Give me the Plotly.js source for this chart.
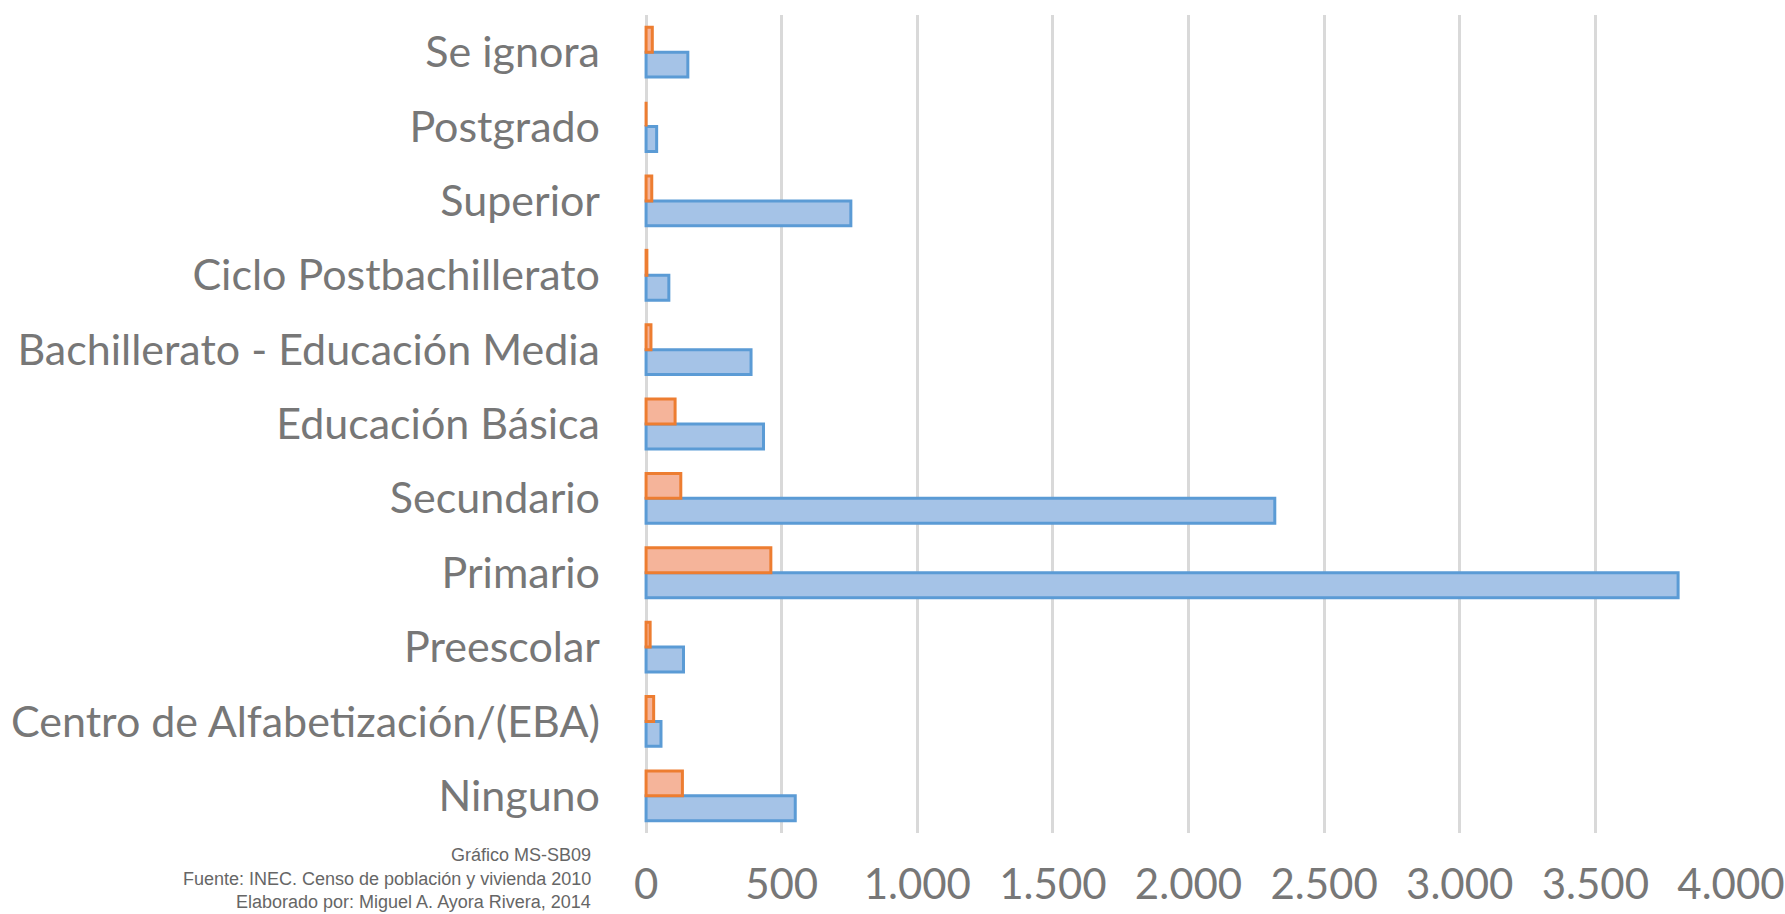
<!DOCTYPE html>
<html>
<head>
<meta charset="utf-8">
<script src="https://cdn.plot.ly/plotly-3.0.1.min.js"></script>
<style>html,body{margin:0;padding:0;background:#fff;}#chart{width:1785px;height:914px;}</style>
</head>
<body>
<div id="chart"></div>
<script>
var categories = ["Ninguno", "Centro de Alfabetización/(EBA)", "Preescolar", "Primario", "Secundario", "Educación Básica", "Bachillerato - Educación Media", "Ciclo Postbachillerato", "Superior", "Postgrado", "Se ignora"];
var serie1 = [550, 55, 138, 3805, 2318, 433, 387, 84, 755, 39, 154];
var serie2 = [134, 28, 15, 460, 128, 107, 18, 3, 21, 0, 23];
var xTickVals = [0, 500, 1000, 1500, 2000, 2500, 3000, 3500, 4000];
var xTickText = ["0", "500", "1.000", "1.500", "2.000", "2.500", "3.000", "3.500", "4.000"];
var noteLines = ["Gráfico MS-SB09", "Fuente: INEC. Censo de población y vivienda 2010", "Elaborado por: Miguel A. Ayora Rivera, 2014"];

var traces = [
  {type: "bar", orientation: "h", name: "Serie 1", y: categories, x: serie1,
   marker: {color: "#a5c3e7", line: {color: "#5b9bd5", width: 3}}},
  {type: "bar", orientation: "h", name: "Serie 2", y: categories, x: serie2,
   marker: {color: "#f5b49a", line: {color: "#ed7d31", width: 3}}}
];

var layout = {
  width: 1785, height: 914,
  paper_bgcolor: "#ffffff", plot_bgcolor: "#ffffff",
  margin: {l: 642, r: 54, t: 15, b: 81},
  showlegend: false,
  barmode: "group", bargap: 0.33, bargroupgap: 0,
  font: {family: "Lato, 'Open Sans', sans-serif", color: "#777777"},
  xaxis: {
    range: [-15, 4000], tickvals: xTickVals, ticktext: xTickText,
    showgrid: true, gridcolor: "#d9d9d9", gridwidth: 3,
    zeroline: true, zerolinecolor: "#d9d9d9", zerolinewidth: 3,
    showline: false, ticks: "",
    tickfont: {size: 42, color: "#777777"}, ticklabelstandoff: 23
  },
  yaxis: {
    type: "category", categoryorder: "array", categoryarray: categories,
    showgrid: false, zeroline: false, showline: false, ticks: "",
    tickfont: {size: 43, color: "#777777"}, ticklabelstandoff: 41
  },
  annotations: noteLines.map(function(t, i){
    return {text: t, xref: "paper", yref: "paper", x: -49/1089, y: -0.0269 - i*0.0290,
            xanchor: "right", yanchor: "middle", showarrow: false,
            font: {family: "'Liberation Sans Narrow', 'Arial Narrow', 'Liberation Sans', sans-serif", size: 18, color: "#666666"}};
  })
};

Plotly.newPlot("chart", traces, layout, {displayModeBar: false, staticPlot: true});
</script>
</body>
</html>
